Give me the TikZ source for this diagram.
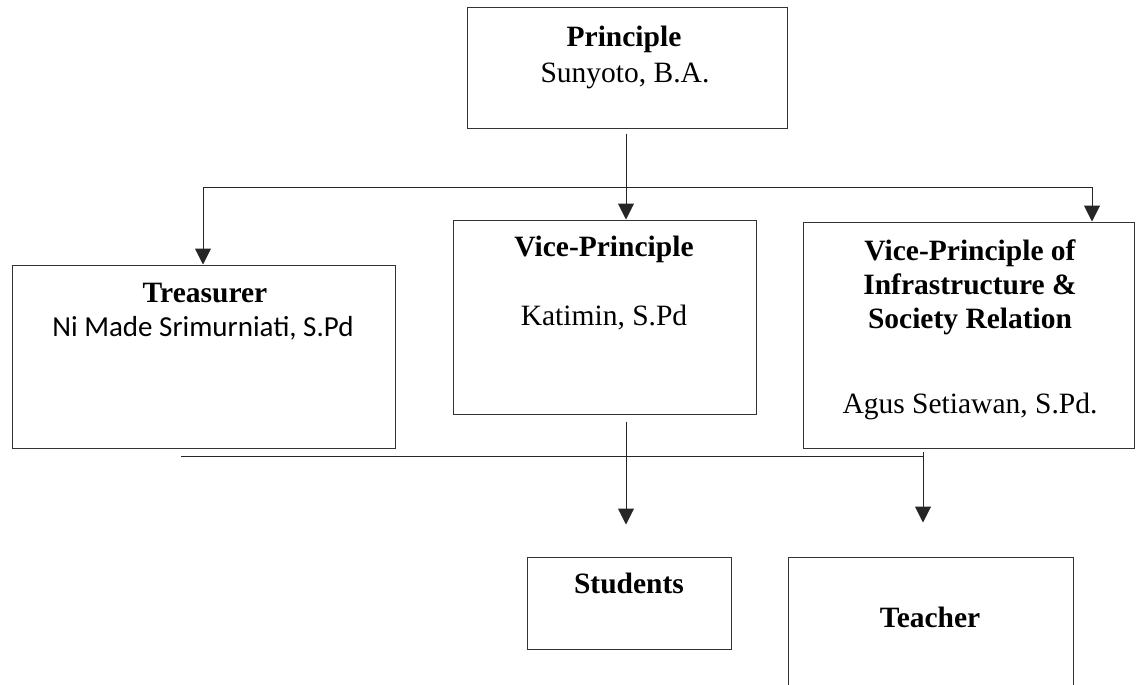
\documentclass[tikz,border=0pt]{standalone}
\usepackage{fontspec}
\setmainfont{Liberation Serif}
\newfontfamily\calfont{Carlito}
\usetikzlibrary{arrows.meta}
\begin{document}
\begin{tikzpicture}[x=1pt,y=-1pt,
  box/.style={draw=black!80, line width=1pt, inner sep=0pt},
  lbl/.style={anchor=base, inner sep=0pt, font=\fontsize{29.5}{34}\selectfont},
  blbl/.style={lbl, font=\fontsize{29.5}{34}\selectfont\bfseries},
  conn/.style={draw=black!85, line width=1pt},
  arr/.style={conn, -{Triangle[length=16pt,width=16pt]}}]
\clip (0,0) rectangle (1136,685);
\fill[white] (0,0) rectangle (1136,685);
% boxes
\node[box, minimum width=320pt, minimum height=120pt] (principle) at (627,68) {};
\node[box, minimum width=383pt, minimum height=183pt] (treasurer) at (203.5,356.5) {};
\node[box, minimum width=303pt, minimum height=194pt] (vp) at (604.5,317) {};
\node[box, minimum width=331pt, minimum height=226pt] (infra) at (969,335) {};
\node[box, minimum width=204pt, minimum height=92pt] (students) at (629,603) {};
\node[box, minimum width=285pt, minimum height=180pt] (teacher) at (930.5,647) {};
% texts
\node[blbl] (t1) at (624,47) {Principle};
\node[lbl] (t2) at (625,82) {Sunyoto, B.A.};
\node[blbl] (t3) at (205,302) {Treasurer};
\node[lbl, font=\calfont\fontsize{29}{34}\selectfont] (t4) at (203,336) {Ni Made Srimurniati, S.Pd};
\node[blbl] (t5) at (604,256) {Vice-Principle};
\node[lbl] (t6) at (604,325) {Katimin, S.Pd};
\node[blbl] (t7) at (970,260) {Vice-Principle of};
\node[blbl] (t8) at (970,294) {Infrastructure \&};
\node[blbl] (t9) at (970,328) {Society Relation};
\node[lbl] (t10) at (970,413) {Agus Setiawan, S.Pd.};
\node[blbl] (t11) at (629,593) {Students};
\node[blbl] (t12) at (930,627) {Teacher};
% connectors
\coordinate (topL) at (203,187);
\coordinate (topR) at (1092,187);
\coordinate (lowL) at (181,456);
\coordinate (lowR) at (923,456);
\draw[arr, shorten <=5pt] (principle.south -| 626,0) -- (vp.north -| 626,0);
\draw[conn] (topL) -- (topR);
\draw[arr] (topL) -- (topL |- treasurer.north);
\draw[arr] (topR) -- (topR |- infra.north);
\draw[arr, shorten <=7pt, shorten >=32pt] (vp.south -| 626,0) -- (students.north -| 626,0);
\draw[conn] (lowL) -- (lowR);
\draw[arr, shorten <=-4pt, shorten >=34pt] (lowR) -- (lowR |- teacher.north);
\end{tikzpicture}
\end{document}
